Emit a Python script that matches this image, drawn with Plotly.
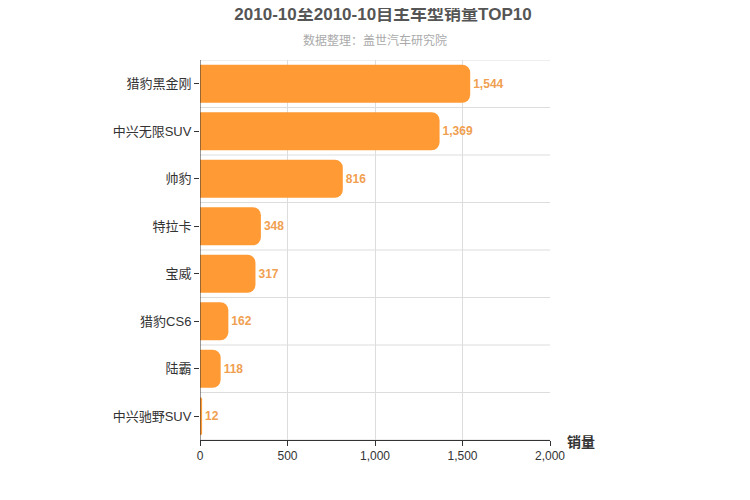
import plotly.graph_objects as go

categories = ["猎豹黑金刚", "中兴无限SUV", "帅豹", "特拉卡", "宝威", "猎豹CS6", "陆霸", "中兴驰野SUV"]
sales = [1544, 1369, 816, 348, 317, 162, 118, 12]
x_ticks = [0, 500, 1000, 1500, 2000]

cats = categories[::-1]
vals = sales[::-1]
font = "Liberation Sans, Noto Sans CJK SC"

fig = go.Figure(go.Bar(
    x=vals, y=cats, orientation="h",
    marker=dict(color="#FF9A35", line=dict(width=0)),
    width=0.8,
    text=[f"<b>{v:,}</b>" for v in vals], textposition="outside",
    textfont=dict(color="#F0A050", size=12, family=font),
    cliponaxis=False,
))
shapes = []
for i in range(len(cats) + 1):
    shapes.append(dict(type="line", xref="paper", x0=0, x1=1, yref="y", y0=i - 0.5, y1=i - 0.5,
                       line=dict(color="#DDDDDD", width=1), layer="below"))
shapes.append(dict(type="line", xref="x", x0=0, x1=0, yref="paper", y0=0, y1=1,
                   line=dict(color="#333333", width=1)))
fig.update_layout(
    width=750, height=500, plot_bgcolor="white", paper_bgcolor="white",
    margin=dict(l=192, r=208, t=52, b=68),
    barcornerradius=8,
    showlegend=False,
    font=dict(family=font, color="#333333"),
    title=dict(text="<b>2010-10至2010-10自主车型销量TOP10</b>", x=0.5, xanchor="center",
               y=1.0, yref="container", yanchor="top", pad=dict(t=0),
               font=dict(size=17, color="#555555")),
    shapes=shapes,
    annotations=[
        dict(text="数据整理：盖世汽车研究院", xref="paper", yref="paper", x=0.5, y=1.0, yshift=20,
             showarrow=False, font=dict(size=12, color="#AAAAAA"), xanchor="center", yanchor="middle"),
        dict(text="<b>销量</b>", xref="paper", yref="paper", x=1, y=0, xshift=15, yshift=-2,
             showarrow=False, font=dict(size=14, color="#333333"), xanchor="left", yanchor="middle"),
    ],
    xaxis=dict(range=[0, 2000], tickvals=x_ticks, tickformat=",", showgrid=True, gridcolor="#DDDDDD",
               zeroline=False, showline=True, linecolor="#333333", ticks="outside", ticklen=5,
               tickcolor="#333333", tickfont=dict(size=12, color="#333333")),
    yaxis=dict(showgrid=False, showline=False, ticks="outside", ticklen=5, tickcolor="#333333",
               tickfont=dict(size=13, color="#333333"), range=[-0.5, len(cats) - 0.5]),
)
fig.write_html("out.html")
